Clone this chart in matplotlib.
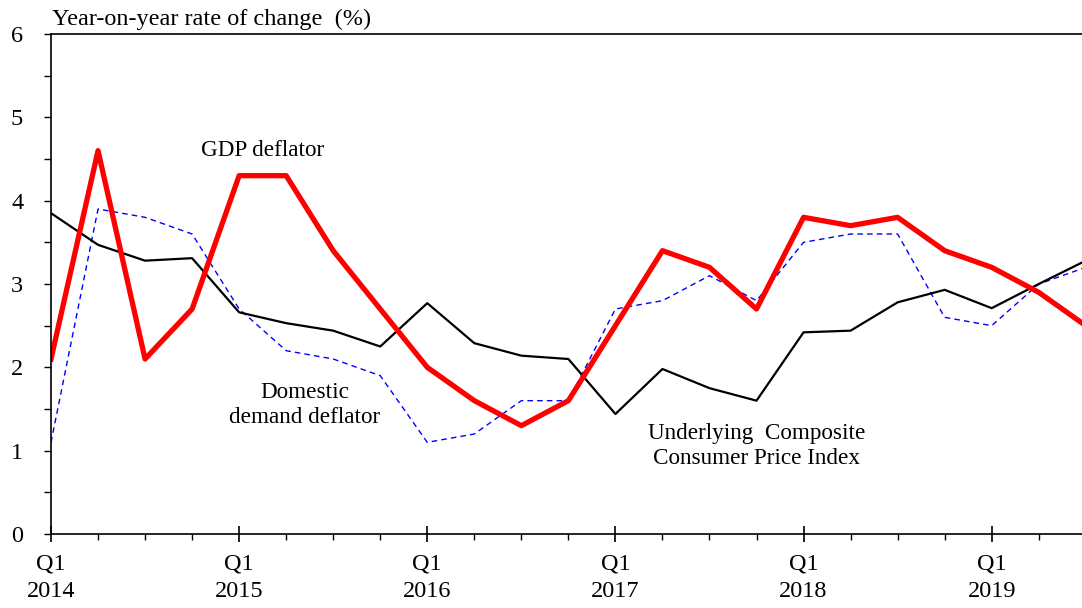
import numpy as np
import matplotlib
matplotlib.use("Agg")
from matplotlib import pyplot as plt
from matplotlib.ticker import MultipleLocator, FixedLocator

plt.rcParams['font.family'] = ['Liberation Serif', 'DejaVu Serif']
plt.rcParams['font.size'] = 17.5

# quarterly data, Q1 2014 .. Q3 2019
quarters = np.arange(23)
year_labels = ['Q1\n2014', 'Q1\n2015', 'Q1\n2016', 'Q1\n2017', 'Q1\n2018', 'Q1\n2019']

gdp_deflator = [2.1, 4.6, 2.1, 2.7, 4.3, 4.3, 3.4, 2.7, 2.0, 1.6, 1.3, 1.6,
                2.5, 3.4, 3.2, 2.7, 3.8, 3.7, 3.8, 3.4, 3.2, 2.9, 2.5]
domestic_deflator = [1.1, 3.9, 3.8, 3.6, 2.7, 2.2, 2.1, 1.9, 1.1, 1.2, 1.6, 1.6,
                     2.7, 2.8, 3.1, 2.8, 3.5, 3.6, 3.6, 2.6, 2.5, 3.0, 3.2]
core_cpi = [3.85, 3.47, 3.28, 3.31, 2.66, 2.53, 2.44, 2.25, 2.77, 2.29, 2.14, 2.10,
            1.44, 1.98, 1.75, 1.60, 2.42, 2.44, 2.78, 2.93, 2.71, 3.00, 3.28]

fig = plt.figure(figsize=(10.82, 6.08), dpi=100)
ax = fig.add_axes([51 / 1082, 1 - 534 / 608, (1082 - 51) / 1082, (534 - 34) / 608])

ax.plot(quarters, domestic_deflator, color='blue', lw=1.0, ls=(0, (4, 3)))
ax.plot(quarters, core_cpi, color='black', lw=1.6)
ax.plot(quarters, gdp_deflator, color='red', lw=3.8)

ax.set_xlim(0, 21.92)
ax.set_ylim(0, 6)

ax.spines['right'].set_visible(False)
for side in ['top', 'left', 'bottom']:
    ax.spines[side].set_linewidth(1.2)

ax.xaxis.set_major_locator(FixedLocator(quarters[::4]))
ax.set_xticklabels(year_labels, linespacing=1.4)
ax.xaxis.set_minor_locator(MultipleLocator(1))
ax.tick_params(axis='x', which='major', direction='inout', length=12, width=1.2, pad=8)
ax.tick_params(axis='x', which='minor', direction='out', length=4, width=1.0)

ax.yaxis.set_major_locator(MultipleLocator(1))
ax.yaxis.set_minor_locator(MultipleLocator(0.5))
ax.tick_params(axis='y', which='both', direction='out', length=5, width=1.0, pad=15)

note_size = 16.7
ax.text(4.5, 4.6, 'GDP deflator', ha='center', va='center', fontsize=note_size)
ax.text(5.4, 1.55, 'Domestic\ndemand deflator', ha='center', va='center',
        linespacing=1.25, fontsize=note_size)
ax.text(15.0, 1.06, 'Underlying  Composite\nConsumer Price Index', ha='center', va='center',
        linespacing=1.25, fontsize=note_size)

fig.text(52 / 1082, 1 - 19 / 608, 'Year-on-year rate of change  (%)', ha='left', va='center')

fig.savefig('out.png', dpi=100)
